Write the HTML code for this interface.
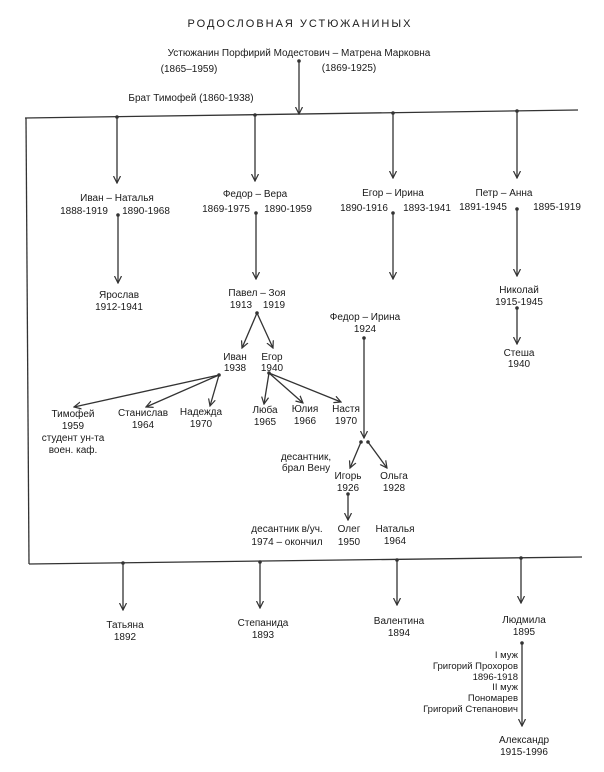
<!DOCTYPE html>
<html><head><meta charset="utf-8"><style>
html,body{margin:0;padding:0;background:#fff;}
svg{display:block;}
text{font-family:"Liberation Sans",Arial,sans-serif;font-size:10px;fill:#1a1a1a;text-anchor:middle;}
.t{font-size:11px;letter-spacing:2px;}
.r{text-anchor:end;font-size:9.5px;}
line,path{stroke:#333;stroke-width:1.3;fill:none;}
</style></head><body>
<svg width="604" height="772" viewBox="0 0 604 772" xmlns="http://www.w3.org/2000/svg">
<defs>
<marker id="a" markerWidth="8" markerHeight="8" refX="7" refY="4" orient="auto" markerUnits="userSpaceOnUse">
<path d="M0,0.5 L7,4 L0,7.5" style="stroke:#333;stroke-width:1.2;fill:none"/></marker>
</defs>
<g fill="#333">
<circle cx="299" cy="61" r="1.8"/>
<circle cx="117" cy="117" r="1.8"/><circle cx="255" cy="115" r="1.8"/><circle cx="393" cy="113" r="1.8"/><circle cx="517" cy="111" r="1.8"/>
<circle cx="118" cy="215" r="1.8"/><circle cx="256" cy="213" r="1.8"/><circle cx="393" cy="213" r="1.8"/><circle cx="517" cy="209" r="1.8"/>
<circle cx="257" cy="313" r="1.8"/><circle cx="219" cy="375" r="1.8"/><circle cx="269" cy="373" r="1.8"/>
<circle cx="364" cy="338" r="1.8"/><circle cx="361" cy="442" r="1.8"/><circle cx="368" cy="442" r="1.8"/>
<circle cx="348" cy="494" r="1.8"/><circle cx="517" cy="308" r="1.8"/>
<circle cx="123" cy="563" r="1.8"/><circle cx="260" cy="562" r="1.8"/><circle cx="397" cy="560" r="1.8"/><circle cx="521" cy="558" r="1.8"/>
<circle cx="522" cy="643" r="1.8"/>
</g>
<text class="t" x="300" y="27">РОДОСЛОВНАЯ  УСТЮЖАНИНЫХ</text>
<text x="299" y="56">Устюжанин Порфирий Модестович – Матрена Марковна</text>
<text x="189" y="72">(1865–1959)</text>
<text x="349" y="71">(1869-1925)</text>
<text x="191" y="101">Брат Тимофей (1860-1938)</text>
<line x1="299" y1="61" x2="299" y2="114" marker-end="url(#a)"/>
<line x1="25" y1="118" x2="578" y2="110"/>
<line x1="26" y1="118" x2="29" y2="564"/>
<line x1="29" y1="564" x2="582" y2="557"/>
<line x1="117" y1="117" x2="117" y2="183" marker-end="url(#a)"/>
<line x1="255" y1="115" x2="255" y2="181" marker-end="url(#a)"/>
<line x1="393" y1="113" x2="393" y2="178" marker-end="url(#a)"/>
<line x1="517" y1="111" x2="517" y2="178" marker-end="url(#a)"/>
<text x="117" y="201">Иван – Наталья</text>
<text x="84" y="214">1888-1919</text><text x="146" y="214">1890-1968</text>
<text x="255" y="197">Федор – Вера</text>
<text x="226" y="212">1869-1975</text><text x="288" y="212">1890-1959</text>
<text x="393" y="196">Егор – Ирина</text>
<text x="364" y="211">1890-1916</text><text x="427" y="211">1893-1941</text>
<text x="504" y="196">Петр – Анна</text>
<text x="483" y="210">1891-1945</text><text x="557" y="210">1895-1919</text>
<line x1="118" y1="215" x2="118" y2="283" marker-end="url(#a)"/>
<line x1="256" y1="213" x2="256" y2="279" marker-end="url(#a)"/>
<line x1="393" y1="213" x2="393" y2="279" marker-end="url(#a)"/>
<line x1="517" y1="209" x2="517" y2="276" marker-end="url(#a)"/>
<text x="119" y="298">Ярослав</text><text x="119" y="310">1912-1941</text>
<text x="257" y="296">Павел – Зоя</text><text x="241" y="308">1913</text><text x="274" y="308">1919</text>
<text x="519" y="293">Николай</text><text x="519" y="305">1915-1945</text>
<line x1="517" y1="308" x2="517" y2="344" marker-end="url(#a)"/>
<text x="519" y="356">Стеша</text><text x="519" y="367">1940</text>
<line x1="257" y1="313" x2="242" y2="348" marker-end="url(#a)"/>
<line x1="257" y1="313" x2="273" y2="348" marker-end="url(#a)"/>
<text x="235" y="360">Иван</text><text x="235" y="371">1938</text>
<text x="272" y="360">Егор</text><text x="272" y="371">1940</text>
<text x="365" y="320">Федор – Ирина</text><text x="365" y="332">1924</text>
<line x1="364" y1="338" x2="364" y2="438" marker-end="url(#a)"/>
<line x1="219" y1="375" x2="74" y2="407" marker-end="url(#a)"/>
<line x1="219" y1="375" x2="146" y2="407" marker-end="url(#a)"/>
<line x1="219" y1="375" x2="210" y2="406" marker-end="url(#a)"/>
<line x1="269" y1="373" x2="264" y2="404" marker-end="url(#a)"/>
<line x1="269" y1="373" x2="303" y2="403" marker-end="url(#a)"/>
<line x1="269" y1="373" x2="341" y2="402" marker-end="url(#a)"/>
<text x="73" y="417">Тимофей</text><text x="73" y="429">1959</text>
<text x="73" y="441">студент ун-та</text><text x="73" y="453">воен. каф.</text>
<text x="143" y="416">Станислав</text><text x="143" y="428">1964</text>
<text x="201" y="415">Надежда</text><text x="201" y="427">1970</text>
<text x="265" y="413">Люба</text><text x="265" y="425">1965</text>
<text x="305" y="412">Юлия</text><text x="305" y="424">1966</text>
<text x="346" y="412">Настя</text><text x="346" y="424">1970</text>
<line x1="361" y1="442" x2="350" y2="468" marker-end="url(#a)"/>
<line x1="368" y1="442" x2="387" y2="468" marker-end="url(#a)"/>
<text x="306" y="460">десантник,</text><text x="306" y="471">брал Вену</text>
<text x="348" y="479">Игорь</text><text x="348" y="491">1926</text>
<text x="394" y="479">Ольга</text><text x="394" y="491">1928</text>
<line x1="348" y1="494" x2="348" y2="520" marker-end="url(#a)"/>
<text x="287" y="532">десантник в/уч.</text><text x="287" y="545">1974 – окончил</text>
<text x="349" y="532">Олег</text><text x="349" y="545">1950</text>
<text x="395" y="532">Наталья</text><text x="395" y="544">1964</text>
<line x1="123" y1="563" x2="123" y2="610" marker-end="url(#a)"/>
<line x1="260" y1="562" x2="260" y2="608" marker-end="url(#a)"/>
<line x1="397" y1="560" x2="397" y2="605" marker-end="url(#a)"/>
<line x1="521" y1="558" x2="521" y2="603" marker-end="url(#a)"/>
<text x="125" y="628">Татьяна</text><text x="125" y="640">1892</text>
<text x="263" y="626">Степанида</text><text x="263" y="638">1893</text>
<text x="399" y="624">Валентина</text><text x="399" y="636">1894</text>
<text x="524" y="623">Людмила</text><text x="524" y="635">1895</text>
<line x1="522" y1="643" x2="522" y2="726" marker-end="url(#a)"/>
<text class="r" x="518" y="658">I муж</text>
<text class="r" x="518" y="669">Григорий Прохоров</text>
<text class="r" x="518" y="680">1896-1918</text>
<text class="r" x="518" y="690">II муж</text>
<text class="r" x="518" y="701">Пономарев</text>
<text class="r" x="518" y="712">Григорий Степанович</text>
<text x="524" y="743">Александр</text><text x="524" y="755">1915-1996</text>
</svg>
</body></html>
